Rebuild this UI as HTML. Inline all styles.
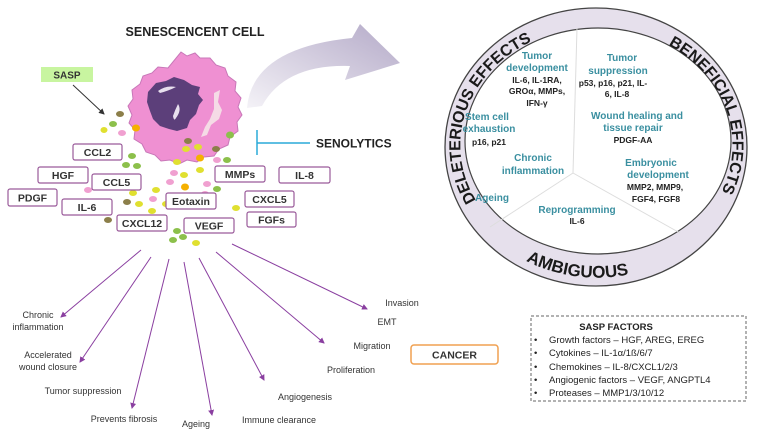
<!DOCTYPE html>
<html><head><meta charset="utf-8">
<style>
html,body{margin:0;padding:0;background:#fff;}
svg{display:block;font-family:"Liberation Sans",sans-serif;}
.box{fill:#fff;stroke:#9a5a9a;stroke-width:1.2;}
.bl{font-size:10.5px;font-weight:bold;fill:#333;text-anchor:middle;}
.t{font-size:10px;font-weight:bold;fill:#3a8fa0;text-anchor:middle;}
.k{font-size:8.5px;font-weight:bold;fill:#222;text-anchor:middle;}
.g{font-size:9px;fill:#333;text-anchor:middle;}
.r{font-size:16px;font-weight:bold;fill:#1a1a1a;}
</style></head><body>
<svg width="758" height="442" viewBox="0 0 758 442" xmlns="http://www.w3.org/2000/svg">
<defs>
<linearGradient id="ag" x1="0" y1="1" x2="1" y2="0">
<stop offset="0" stop-color="#f4f2f7"/><stop offset="1" stop-color="#b4aac8"/></linearGradient>
<marker id="ah" markerWidth="6" markerHeight="6" refX="5" refY="3" orient="auto"><path d="M0,0 L6,3 L0,6 Z" fill="#8a3fa0"/></marker>
<marker id="ak" markerWidth="6" markerHeight="6" refX="5" refY="3" orient="auto"><path d="M0,0 L6,3 L0,6 Z" fill="#333"/></marker>
<path id="pl" d="M 493 222 A 136 118 0 0 1 573 29"/>
<path id="pr" d="M 621 29 A 136 118 0 0 1 665 247"/>
<path id="pb" d="M 471 211 A 145 132 0 0 0 723 211"/>
</defs>

<text x="195" y="36" style="font-size:12.5px;font-weight:bold;fill:#222;text-anchor:middle">SENESCENCENT CELL</text>
<rect x="41" y="67" width="52" height="15" fill="#c8f5a0"/>
<text x="67" y="78.5" style="font-size:10px;font-weight:bold;fill:#333;text-anchor:middle">SASP</text>
<line x1="73" y1="85" x2="104" y2="114" stroke="#333" stroke-width="1" marker-end="url(#ak)"/>

<path d="M247,108 Q252,48 352,38 L360,24 L400,63 L345,80 L350,66 Q285,64 262,106 Z" fill="url(#ag)"/>

<path d="M181,52 l6,4 8,-3 5,5 10,0 6,7 9,3 3,8 8,6 -1,9 6,7 -3,9 4,8 -5,7 1,9 -8,6 -2,8 -9,4 -5,7 -10,1 -7,5 -10,-2 -8,4 -9,-4 -9,1 -6,-6 -9,-3 -4,-8 -8,-5 1,-9 -6,-7 3,-8 -4,-9 5,-7 -1,-9 8,-6 3,-8 9,-3 6,-6 10,1 Z" fill="#ef90d2" stroke="#c877b8" stroke-width="1"/>
<path d="M148,92 l8,-9 10,-2 8,-4 10,3 8,5 8,2 -2,7 5,6 -4,5 -3,9 -6,6 -3,8 -10,3 -8,-2 -9,-3 -7,-7 -3,-8 -3,-9 Z" fill="#5c3f7a"/>
<path d="M158,91 q8,-6 18,-4 q-8,4 -16,6 Z M178,104 q4,6 -2,14 q-2,4 -3,-2 q2,-6 5,-12 Z" fill="#e8e0ee"/>
<path d="M214,93 l6,-3 -2,12 4,8 -3,9 -8,6 -4,10 -6,2 4,-10 5,-8 4,-10 Z" fill="#f5dbe6"/>

<g>
<ellipse cx="120" cy="114" rx="4" ry="3" fill="#8c7f4a"/>
<ellipse cx="113" cy="124" rx="4" ry="3" fill="#8cc04b"/>
<ellipse cx="104" cy="130" rx="3.5" ry="3" fill="#e0e030"/>
<ellipse cx="122" cy="133" rx="4" ry="3" fill="#f0a0d0"/>
<ellipse cx="136" cy="128" rx="4" ry="3.5" fill="#f5b000"/>
<ellipse cx="188" cy="141" rx="4" ry="3" fill="#8c7f4a"/>
<ellipse cx="186" cy="149" rx="4" ry="3" fill="#e0e030"/>
<ellipse cx="198" cy="147" rx="4" ry="3" fill="#e0e030"/>
<ellipse cx="216" cy="149" rx="4" ry="3" fill="#8c7f4a"/>
<ellipse cx="230" cy="135" rx="4" ry="3.5" fill="#8cc04b"/>
<ellipse cx="200" cy="158" rx="4" ry="3.5" fill="#f5b000"/>
<ellipse cx="217" cy="160" rx="4" ry="3" fill="#f0a0d0"/>
<ellipse cx="227" cy="160" rx="4" ry="3" fill="#8cc04b"/>
<ellipse cx="177" cy="162" rx="4" ry="3" fill="#e0e030"/>
<ellipse cx="200" cy="170" rx="4" ry="3" fill="#e0e030"/>
<ellipse cx="174" cy="173" rx="4" ry="3" fill="#f0a0d0"/>
<ellipse cx="184" cy="175" rx="4" ry="3" fill="#e0e030"/>
<ellipse cx="170" cy="182" rx="4" ry="3" fill="#f0a0d0"/>
<ellipse cx="185" cy="187" rx="4" ry="3.5" fill="#f5b000"/>
<ellipse cx="207" cy="184" rx="4" ry="3" fill="#f0a0d0"/>
<ellipse cx="217" cy="189" rx="4" ry="3" fill="#8cc04b"/>
<ellipse cx="205" cy="194" rx="4" ry="3" fill="#f0a0d0"/>
<ellipse cx="132" cy="156" rx="4" ry="3" fill="#8cc04b"/>
<ellipse cx="126" cy="165" rx="4" ry="3" fill="#8cc04b"/>
<ellipse cx="137" cy="166" rx="4" ry="3" fill="#8cc04b"/>
<ellipse cx="88" cy="190" rx="4" ry="3" fill="#f0a0d0"/>
<ellipse cx="133" cy="193" rx="4" ry="3" fill="#e0e030"/>
<ellipse cx="156" cy="190" rx="4" ry="3" fill="#e0e030"/>
<ellipse cx="153" cy="199" rx="4" ry="3" fill="#f0a0d0"/>
<ellipse cx="127" cy="202" rx="4" ry="3" fill="#8c7f4a"/>
<ellipse cx="139" cy="204" rx="4" ry="3" fill="#e0e030"/>
<ellipse cx="166" cy="204" rx="4" ry="3" fill="#e0e030"/>
<ellipse cx="152" cy="211" rx="4" ry="3" fill="#e0e030"/>
<ellipse cx="108" cy="220" rx="4" ry="3" fill="#8c7f4a"/>
<ellipse cx="236" cy="208" rx="4" ry="3" fill="#e0e030"/>
<ellipse cx="177" cy="231" rx="4" ry="3" fill="#8cc04b"/>
<ellipse cx="183" cy="237" rx="4" ry="3" fill="#8cc04b"/>
<ellipse cx="173" cy="240" rx="4" ry="3" fill="#8cc04b"/>
<ellipse cx="196" cy="243" rx="4" ry="3" fill="#e0e030"/>
</g>

<rect class="box" x="73" y="144" width="49" height="16" rx="2"/><text class="bl" x="97.5" y="156">CCL2</text>
<rect class="box" x="38" y="167" width="50" height="16" rx="2"/><text class="bl" x="63" y="179">HGF</text>
<rect class="box" x="92" y="174" width="49" height="16" rx="2"/><text class="bl" x="116.5" y="186">CCL5</text>
<rect class="box" x="8" y="189" width="49" height="17" rx="2"/><text class="bl" x="32.5" y="201.5">PDGF</text>
<rect class="box" x="62" y="199" width="50" height="16" rx="2"/><text class="bl" x="87" y="211">IL-6</text>
<rect class="box" x="117" y="215" width="50" height="16" rx="2"/><text class="bl" x="142" y="227">CXCL12</text>
<rect class="box" x="166" y="193" width="50" height="16" rx="2"/><text class="bl" x="191" y="205">Eotaxin</text>
<rect class="box" x="184" y="218" width="50" height="15" rx="2"/><text class="bl" x="209" y="229.5">VEGF</text>
<rect class="box" x="215" y="166" width="50" height="16" rx="2"/><text class="bl" x="240" y="178">MMPs</text>
<rect class="box" x="279" y="167" width="51" height="16" rx="2"/><text class="bl" x="304.5" y="179">IL-8</text>
<rect class="box" x="245" y="191" width="49" height="16" rx="2"/><text class="bl" x="269.5" y="203">CXCL5</text>
<rect class="box" x="247" y="212" width="49" height="15" rx="2"/><text class="bl" x="271.5" y="223.5">FGFs</text>

<line x1="257" y1="130" x2="257" y2="155" stroke="#2aaad8" stroke-width="1.5"/>
<line x1="257" y1="143" x2="310" y2="143" stroke="#2aaad8" stroke-width="1.5"/>
<text x="316" y="147.5" style="font-size:12px;font-weight:bold;fill:#222">SENOLYTICS</text>

<ellipse cx="596" cy="147" rx="151" ry="139" fill="#e6e0ec" stroke="#444" stroke-width="1.3"/>
<ellipse cx="598" cy="141" rx="133" ry="113" fill="#fff" stroke="#444" stroke-width="1.2"/>
<g stroke="#ddd" stroke-width="1">
<line x1="573" y1="173" x2="577" y2="28"/>
<line x1="573" y1="173" x2="490" y2="227"/>
<line x1="573" y1="173" x2="680" y2="233"/>
</g>
<text class="r"><textPath href="#pl" startOffset="47%" text-anchor="middle">DELETERIOUS EFFECTS</textPath></text>
<text class="r"><textPath href="#pr" startOffset="45%" text-anchor="middle">BENEFICIAL EFFECTS</textPath></text>
<text class="r" style="font-size:17px"><textPath href="#pb" startOffset="43%" text-anchor="middle">AMBIGUOUS</textPath></text>

<text class="t" x="537" y="59">Tumor</text>
<text class="t" x="537" y="71">development</text>
<text class="k" x="537" y="83">IL-6, IL-1RA,</text>
<text class="k" x="537" y="94">GROα, MMPs,</text>
<text class="k" x="537" y="106">IFN-γ</text>
<text class="t" x="622" y="61">Tumor</text>
<text class="t" x="618" y="74">suppression</text>
<text class="k" x="613" y="86">p53, p16, p21, IL-</text>
<text class="k" x="617" y="97">6, IL-8</text>
<text class="t" x="487" y="120">Stem cell</text>
<text class="t" x="489" y="132">exhaustion</text>
<text class="k" x="489" y="145">p16, p21</text>
<text class="t" x="637" y="119">Wound healing and</text>
<text class="t" x="633" y="131">tissue repair</text>
<text class="k" x="633" y="143">PDGF-AA</text>
<text class="t" x="533" y="161">Chronic</text>
<text class="t" x="533" y="174">inflammation</text>
<text class="t" x="651" y="166">Embryonic</text>
<text class="t" x="658" y="178">development</text>
<text class="k" x="655" y="190">MMP2, MMP9,</text>
<text class="k" x="656" y="202">FGF4, FGF8</text>
<text class="t" x="492" y="201">Ageing</text>
<text class="t" x="577" y="213">Reprogramming</text>
<text class="k" x="577" y="224">IL-6</text>

<g stroke="#8a3fa0" stroke-width="1" fill="none" marker-end="url(#ah)">
<line x1="141" y1="250" x2="61" y2="317"/>
<line x1="151" y1="257" x2="80" y2="362"/>
<line x1="169" y1="259" x2="132" y2="408"/>
<line x1="184" y1="262" x2="212" y2="415"/>
<line x1="199" y1="258" x2="264" y2="380"/>
<line x1="216" y1="252" x2="324" y2="343"/>
<line x1="232" y1="244" x2="367" y2="309"/>
</g>
<text class="g" x="38" y="318">Chronic</text>
<text class="g" x="38" y="330">inflammation</text>
<text class="g" x="48" y="358">Accelerated</text>
<text class="g" x="48" y="370">wound closure</text>
<text class="g" x="83" y="394">Tumor suppression</text>
<text class="g" x="124" y="422">Prevents fibrosis</text>
<text class="g" x="196" y="427">Ageing</text>
<text class="g" x="279" y="423">Immune clearance</text>
<text class="g" x="305" y="400">Angiogenesis</text>
<text class="g" x="351" y="373">Proliferation</text>
<text class="g" x="372" y="349">Migration</text>
<text class="g" x="387" y="325">EMT</text>
<text class="g" x="402" y="306">Invasion</text>

<rect x="411" y="345" width="87" height="19" rx="3" fill="#fff" stroke="#f0a050" stroke-width="1.5"/>
<text x="454.5" y="358.5" style="font-size:10.5px;font-weight:bold;fill:#333;text-anchor:middle">CANCER</text>

<rect x="531" y="316" width="215" height="85" fill="#fff" stroke="#666" stroke-width="1" stroke-dasharray="3,2"/>
<text x="616" y="330" style="font-size:9.5px;font-weight:bold;fill:#222;text-anchor:middle">SASP FACTORS</text>
<g style="font-size:9.5px;fill:#222">
<text x="534" y="343">•</text><text x="549" y="343">Growth factors – HGF, AREG, EREG</text>
<text x="534" y="356">•</text><text x="549" y="356">Cytokines – IL-1α/1ß/6/7</text>
<text x="534" y="370">•</text><text x="549" y="370">Chemokines – IL-8/CXCL1/2/3</text>
<text x="534" y="383">•</text><text x="549" y="383">Angiogenic factors – VEGF, ANGPTL4</text>
<text x="534" y="396">•</text><text x="549" y="396">Proteases – MMP1/3/10/12</text>
</g>
</svg>
</body></html>
